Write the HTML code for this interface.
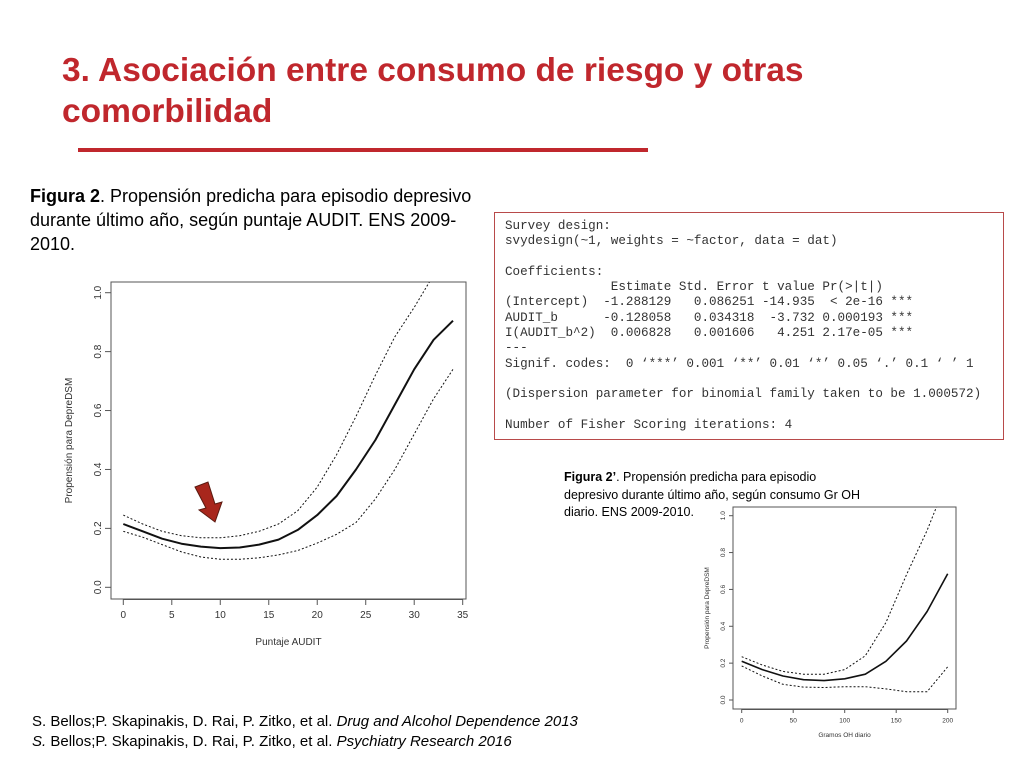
<!DOCTYPE html>
<html><head><meta charset="utf-8"><style>
body{margin:0;width:1024px;height:768px;background:#fff;position:relative;overflow:hidden;font-family:"Liberation Sans",sans-serif;}
.abs{position:absolute;}
#title{left:62px;top:50px;color:#c0272d;font-weight:bold;font-size:33.5px;line-height:41px;white-space:nowrap;}
#cap1{left:30px;top:184px;font-size:18px;line-height:24px;color:#000;white-space:nowrap;}
#cap2{left:564px;top:469px;font-size:12.5px;line-height:17.5px;color:#000;white-space:nowrap;}
#code{left:494px;top:212px;width:510px;height:228px;border:1.5px solid #b84a4a;box-sizing:border-box;background:#fff;font-family:"Liberation Mono",monospace;font-size:12.6px;line-height:15.3px;color:#333;white-space:pre;padding:6px 0 0 10px;}
#refs{left:32px;top:712px;font-size:15px;line-height:20px;color:#000;}
</style></head><body>
<div id="title" class="abs">3. Asociación entre consumo de riesgo y otras<br>comorbilidad</div>
<div class="abs" style="left:78px;top:148px;width:570px;height:4px;background:#c0272d"></div>
<div id="cap1" class="abs"><b>Figura 2</b>. Propensión predicha para episodio depresivo<br>durante último año, según puntaje AUDIT. ENS 2009-<br>2010.</div>
<div id="code" class="abs">Survey design:
svydesign(~1, weights = ~factor, data = dat)

Coefficients:
              Estimate Std. Error t value Pr(&gt;|t|)
(Intercept)  -1.288129   0.086251 -14.935  &lt; 2e-16 ***
AUDIT_b      -0.128058   0.034318  -3.732 0.000193 ***
I(AUDIT_b^2)  0.006828   0.001606   4.251 2.17e-05 ***
---
Signif. codes:  0 ‘***’ 0.001 ‘**’ 0.01 ‘*’ 0.05 ‘.’ 0.1 ‘ ’ 1

(Dispersion parameter for binomial family taken to be 1.000572)

Number of Fisher Scoring iterations: 4</div>
<div id="cap2" class="abs"><b>Figura 2’</b>. Propensión predicha para episodio<br>depresivo durante último año, según consumo Gr OH<br>diario. ENS 2009-2010.</div>
<div id="refs" class="abs">S. Bellos;P. Skapinakis, D. Rai, P. Zitko, et al. <i>Drug and Alcohol Dependence 2013</i><br><i>S.</i> Bellos;P. Skapinakis, D. Rai, P. Zitko, et al. <i>Psychiatry Research 2016</i></div>
<svg id="svg" class="abs" style="left:0;top:0" width="1024" height="768"></svg>
<script>
// Chart 1 data
const c1X=[0,2,4,6,8,10,12,14,16,18,20,22,24,26,28,30,32,34];
const c1Fit=[0.215,0.19,0.165,0.148,0.138,0.133,0.135,0.145,0.162,0.195,0.245,0.31,0.40,0.50,0.62,0.74,0.84,0.905];
const c1Up=[0.245,0.215,0.19,0.175,0.168,0.168,0.175,0.19,0.215,0.26,0.34,0.45,0.58,0.72,0.85,0.95,1.06,1.15];
const c1Lo=[0.19,0.17,0.145,0.12,0.103,0.095,0.095,0.1,0.11,0.125,0.15,0.18,0.22,0.30,0.40,0.52,0.64,0.74];
const c1XTicks=[0,5,10,15,20,25,30,35];
const c1YTicks=[0.0,0.2,0.4,0.6,0.8,1.0];
// Chart 2 data
const c2X=[0,20,40,60,80,100,120,140,160,180,200];
const c2Fit=[0.21,0.165,0.13,0.11,0.105,0.115,0.14,0.21,0.32,0.48,0.685];
const c2Up=[0.235,0.19,0.155,0.14,0.14,0.165,0.24,0.42,0.68,0.92,1.2];
const c2Lo=[0.185,0.13,0.085,0.07,0.068,0.072,0.072,0.06,0.045,0.045,0.18];
const c2XTicks=[0,50,100,150,200];
const c2YTicks=[0.0,0.2,0.4,0.6,0.8,1.0];

const NS='http://www.w3.org/2000/svg';
const svg=document.getElementById('svg');
function mk(t,a,p){const e=document.createElementNS(NS,t);for(const k in a)e.setAttribute(k,a[k]);(p||svg).appendChild(e);return e;}

function chart(o){
  const sx=v=>o.x0+(v-o.xmin)/(o.xmax-o.xmin)*(o.x1-o.x0);
  const sy=v=>o.y0+(v-0)/(1-0)*(o.y1-o.y0);
  const g=mk('g',{});
  
  
  const cp=mk('clipPath',{id:o.name+'-clip'},g);
  mk('rect',{x:o.bx0,y:o.by0,width:o.bx1-o.bx0,height:o.by1-o.by0},cp);
  const box=mk('rect',{x:o.bx0,y:o.by0,width:o.bx1-o.bx0,height:o.by1-o.by0,fill:'none',stroke:'#555','stroke-width':1},g);
  
  
  o.xt.forEach(v=>{
    mk('line',{x1:sx(v),x2:sx(v),y1:o.by1,y2:o.by1+o.tk,stroke:'#555'},g);
    const t=mk('text',{x:sx(v),y:o.by1+o.tk+o.fs+3,'font-size':o.fs,'text-anchor':'middle',fill:'#333'},g);
    t.textContent=v;
    
    
  });
  mk('line',{x1:sx(o.xt[0]),x2:sx(o.xt[o.xt.length-1]),y1:o.by1+0.5,y2:o.by1+0.5,stroke:'#555'},g);
  o.yt.forEach(v=>{
    mk('line',{x1:o.bx0-o.tk,x2:o.bx0,y1:sy(v),y2:sy(v),stroke:'#555'},g);
    const tx=o.bx0-o.tk-4,ty=sy(v);
    const t=mk('text',{x:tx,y:ty,'font-size':o.fs,'text-anchor':'middle',fill:'#333',transform:`rotate(-90 ${tx} ${ty})`},g);
    t.textContent=v.toFixed(1);
    
    
  });
  const xl=mk('text',{x:(o.bx0+o.bx1)/2,y:o.xlY,'font-size':o.fs,'text-anchor':'middle',fill:'#333'},g);
  xl.textContent=o.xlab;
  
  
  const yl=mk('text',{x:o.ylX,y:(o.by0+o.by1)/2,'font-size':o.fs,'text-anchor':'middle',fill:'#333',transform:`rotate(-90 ${o.ylX} ${(o.by0+o.by1)/2})`},g);
  yl.textContent=o.ylab;
  
  
  const line=(ys,w,dash,nm)=>{
    const d=o.X.map((x,i)=>(i?'L':'M')+sx(x).toFixed(1)+','+sy(ys[i]).toFixed(1)).join(' ');
    const p=mk('path',{d:d,fill:'none',stroke:'#111','stroke-width':w,'stroke-dasharray':dash,'clip-path':`url(#${o.name}-clip)`,'stroke-linejoin':'round'},g);
    
    
  };
  line(o.up,1,'2,2','upper-ci-line');
  line(o.lo,1,'2,2','lower-ci-line');
  line(o.fit,o.lw,'none','fitted-line');
  return {sx,sy};
}
chart({name:'audit-chart',X:c1X,fit:c1Fit,up:c1Up,lo:c1Lo,xt:c1XTicks,yt:c1YTicks,xmin:0,xmax:35,x0:123.3,x1:462.7,y0:587.3,y1:292.7,bx0:111,bx1:466,by0:282,by1:599,tk:6,fs:10,xlY:645,ylX:72,xlab:'Puntaje AUDIT',ylab:'Propensión para DepreDSM',lw:2});
chart({name:'gramos-chart',X:c2X,fit:c2Fit,up:c2Up,lo:c2Lo,xt:c2XTicks,yt:c2YTicks,xmin:0,xmax:200,x0:741.7,x1:947.7,y0:700,y1:515.7,bx0:733,bx1:956,by0:507,by1:709,tk:4,fs:6.5,xlY:737,ylX:709,xlab:'Gramos OH diario',ylab:'Propensión para DepreDSM',lw:1.6});
const ar=mk('polygon',{points:'195,487 208,482 215,504 222,502 215,522 199,510 206,508',fill:'#a8261c',stroke:'#5a1a10','stroke-width':1});


</script>
</body></html>
